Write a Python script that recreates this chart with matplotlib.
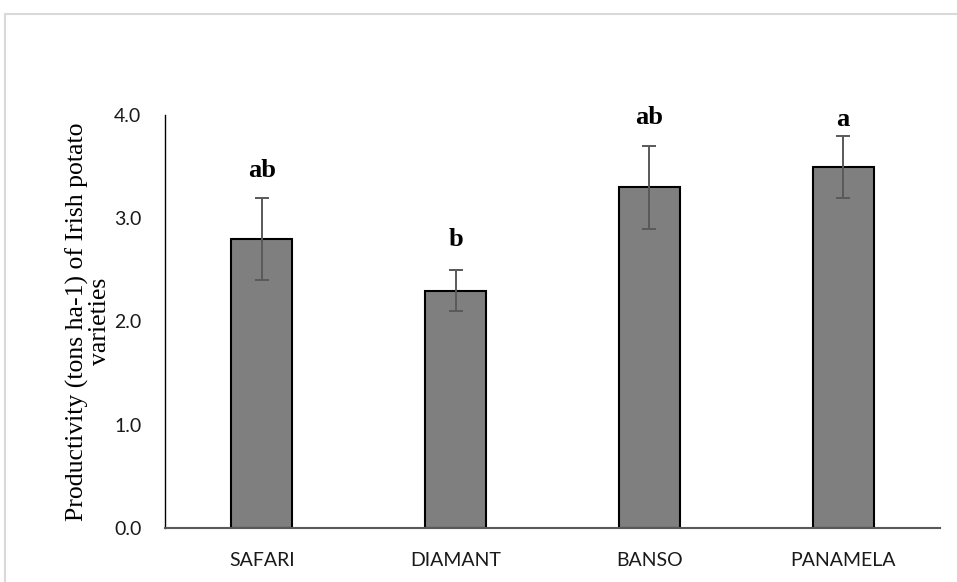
import numpy as np
import matplotlib
matplotlib.use('Agg')
import matplotlib.pyplot as plt
from matplotlib.patches import Rectangle

# data
varieties = ['SAFARI', 'DIAMANT', 'BANSO', 'PANAMELA']
productivity = [2.8, 2.3, 3.3, 3.5]
std_err = [0.4, 0.2, 0.4, 0.3]
letters = ['ab', 'b', 'ab', 'a']
yticks = [0.0, 1.0, 2.0, 3.0, 4.0]

fig = plt.figure(figsize=(9.57, 5.82), dpi=100)
ax = fig.add_axes([0.1724, 0.0928, 0.8098, 0.7096])

# light frame round the chart
fig.patches.append(Rectangle((5/957, -0.1), 1.1, 1.1 - 14/582,
                             transform=fig.transFigure, fill=False,
                             edgecolor='#d9d9d9', linewidth=1.5))

x = np.arange(len(varieties))
ax.bar(x, productivity, width=0.315, color='#7f7f7f', edgecolor='black',
       linewidth=1.5, zorder=2)
ax.errorbar(x, productivity, yerr=std_err, fmt='none', ecolor='#595959',
            elinewidth=1.4, capsize=5, capthick=1.4, zorder=3)

# significance letters (offsets in points above the error bar)
offsets = [15, 17, 16, 7]
for xi, m, e, lab, off in zip(x, productivity, std_err, letters, offsets):
    ax.annotate(lab, (xi, m + e), xytext=(0, off), textcoords='offset points',
                ha='center', va='baseline', fontsize=19, fontweight='bold',
                family='Liberation Serif', annotation_clip=False)

ax.set_xlim(-0.5, len(varieties) - 0.5)
ax.set_ylim(0, 4.0)
ax.set_yticks(yticks)
ax.set_yticklabels(['%.1f' % v for v in yticks])
ax.set_xticks(x)
ax.set_xticklabels(varieties)
ax.tick_params(length=0, labelsize=14)
for lab in ax.get_xticklabels() + ax.get_yticklabels():
    lab.set_family('Lato')
    lab.set_color('#1a1a1a')
ax.tick_params(axis='x', pad=17)
ax.tick_params(axis='y', pad=17)

for s in ['top', 'right']:
    ax.spines[s].set_visible(False)
ax.spines['left'].set_color('black')
ax.spines['left'].set_linewidth(1.0)
ax.spines['bottom'].set_color('#595959')
ax.spines['bottom'].set_linewidth(1.5)

ax.set_ylabel('Productivity (tons ha-1) of Irish potato\nvarieties',
              family='Liberation Serif', fontsize=18.5, linespacing=1.0,
              labelpad=2)

plt.savefig('out.png', dpi=100)
